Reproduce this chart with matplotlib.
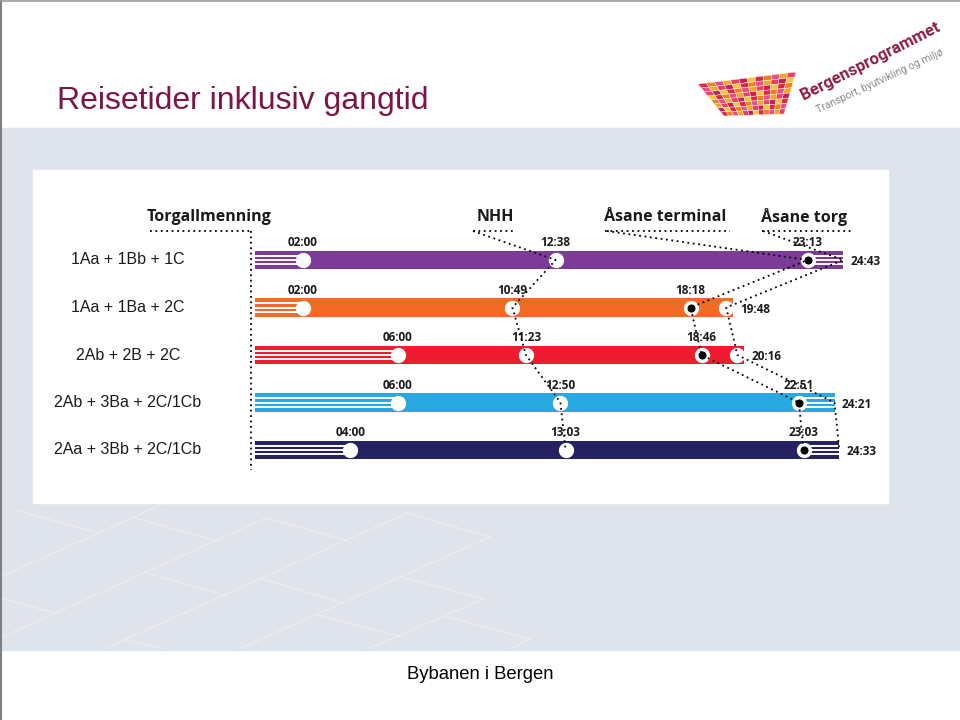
import matplotlib.pyplot as plt
from matplotlib.patches import Rectangle, Polygon

# route data (travel time in mm:ss from Torgallmenning)
routes = ["1Aa + 1Bb + 1C", "1Aa + 1Ba + 2C", "2Ab + 2B + 2C",
          "2Ab + 3Ba + 2C/1Cb", "2Aa + 3Bb + 2C/1Cb"]
board_times = ["02:00", "02:00", "06:00", "06:00", "04:00"]
nhh_times = ["12:38", "10:49", "11:23", "12:50", "13:03"]
terminal_times = ["23:13", "18:18", "18:46", "22:51", "23:03"]
torg_times = ["24:43", "19:48", "20:16", "24:21", "24:33"]
walk_to_torg = [True, False, False, True, True]
stops = ["Torgallmenning", "NHH", "Åsane terminal", "Åsane torg"]
route_colors = ["#7B3B96", "#F26A24", "#ED1C2E", "#28A9E1", "#262262"]


def to_min(s):
    m, sec = s.split(":")
    return int(m) + int(sec) / 60


board = [to_min(s) for s in board_times]
nhh = [to_min(s) for s in nhh_times]
term = [to_min(s) for s in terminal_times]
torg = [to_min(s) for s in torg_times]

# layout: chart panel in pixels, time scale
PX_MIN = 23.8
X0, ROW0, ROWH = 255, 260, 47.5


def px2data(px, py):
    return (px - X0) / PX_MIN, (py - ROW0) / ROWH


fig = plt.figure(figsize=(9.6, 7.2), dpi=100)
fig.patch.set_facecolor("white")

# ---- slide background ----
bg = fig.add_axes([0, 0, 1, 1])
bg.set_xlim(0, 960)
bg.set_ylim(720, 0)
bg.set_axis_off()
bg.add_patch(Rectangle((0, 128), 960, 522, color="#DFE3EC", zorder=0))
lattice = [
    ((15, 510), (98, 533)), ((135, 518), (217, 541)), ((266, 518), (349, 541)),
    ((407, 513), (490, 537)), ((0, 598), (55, 613)), ((147, 573), (227, 596)),
    ((263, 579), (343, 603)), ((401, 577), (484, 599)), ((318, 615), (401, 637)),
    ((447, 617), (530, 639)), ((126, 640), (165, 649)),
    ((0, 577), (165, 503)), ((0, 638), (266, 518)), ((104, 649), (407, 513)),
    ((239, 649), (490, 537)), ((367, 649), (484, 599)), ((510, 649), (530, 639)),
]
for (xa, ya), (xb, yb) in lattice:
    bg.plot([xa, xb], [ya, yb], color="white", lw=0.7, alpha=0.45, zorder=1)
bg.add_patch(Rectangle((33, 170), 855, 333, color="white", zorder=2))
bg.plot([1, 1], [0, 720], color="#7f7f7f", lw=1.5, zorder=3)
bg.plot([0, 960], [1, 1], color="#9a9a9a", lw=1.2, zorder=3)

bg.text(57, 109, "Reisetider inklusiv gangtid", fontsize=23, color="#7D1445",
        family="Liberation Sans", va="baseline", ha="left")
bg.text(480, 679, "Bybanen i Bergen", fontsize=13.3, color="black",
        family="Liberation Sans", va="baseline", ha="center")

# logo: woven tile + name
TL, TR, BR, BL = (698, 84), (796, 72), (784, 114), (724, 116)
palette = ["#E3263B", "#F5A623", "#F7C53A", "#E94E8A", "#C71F5A", "#F47B20", "#EE3F5C"]
nr, nc = 8, 12


def quad(u, v):
    tx = TL[0] + (TR[0] - TL[0]) * u
    ty = TL[1] + (TR[1] - TL[1]) * u
    bx = BL[0] + (BR[0] - BL[0]) * u
    by = BL[1] + (BR[1] - BL[1]) * u
    return tx + (bx - tx) * v, ty + (by - ty) * v


for i in range(nr):
    for j in range(nc):
        u0, u1 = j / nc, (j + 1) / nc
        v0, v1 = i / nr, (i + 1) / nr
        pts = [quad(u0, v0), quad(u1, v0), quad(u1, v1), quad(u0, v1)]
        bg.add_patch(Polygon(pts, closed=True, facecolor=palette[(3 * i + 5 * j) % len(palette)],
                             edgecolor="white", lw=0.3, zorder=3))
bg.text(804, 100, "Bergensprogrammet", rotation=27, rotation_mode="anchor",
        fontsize=12, weight="bold", color="#8C1D40",
        family="Roboto", ha="left", va="baseline", zorder=4)
bg.text(818, 113, "Transport, byutvikling og miljø", rotation=25, rotation_mode="anchor",
        fontsize=7.5, color="#8a8a8a",
        family="Roboto", ha="left", va="baseline", zorder=4)

# ---- chart ----
ax = fig.add_axes([33 / 960, 1 - 503 / 720, 855 / 960, 333 / 720])
xl0, _ = px2data(33, 0)
xl1, _ = px2data(888, 0)
_, yb = px2data(0, 503)
_, yt = px2data(0, 170)
ax.set_xlim(xl0, xl1)
ax.set_ylim(yb, yt)
ax.set_axis_off()

lab_font = dict(family="Open Sans", weight="bold", fontsize=8.5, color="#1a1a1a")
dots = dict(color="black", lw=1.3, linestyle=(0, (1, 2)), zorder=6)
BAR_H = 0.38
CAP = 0.3
stripe_offs = [-0.085, 0, 0.085]

lx, _ = px2data(128, 0)
for i, name in enumerate(routes):
    c = route_colors[i]
    end = torg[i] if walk_to_torg[i] else torg[i] + CAP
    ax.barh(i, end, left=0, height=BAR_H, color=c, zorder=2)
    for off in stripe_offs:
        ax.plot([0, board[i]], [i + off, i + off], color="white", lw=1.4,
                solid_capstyle="butt", zorder=3)
        if walk_to_torg[i]:
            ax.plot([term[i], torg[i]], [i + off, i + off], color="white", lw=1.4,
                    solid_capstyle="butt", zorder=3)
    for t in (board[i], nhh[i], term[i]):
        ax.plot(t, i, "o", ms=10, mfc="white", mec="white", zorder=4)
    ax.plot(term[i], i, "o", ms=4.8, mfc="black", mec="black", zorder=5)
    if not walk_to_torg[i]:
        ax.plot(torg[i], i, "o", ms=10, mfc="white", mec="white", zorder=4)
    for t, s in ((board[i], board_times[i]), (nhh[i], nhh_times[i]), (term[i], terminal_times[i])):
        ax.text(t, i - 0.36, s, ha="center", va="center", **lab_font)
    ax.text(end + 0.3, i + 0.04, torg_times[i], ha="left", va="center", **lab_font)
    ax.text(lx, i, name, ha="center", va="center", fontsize=11.5,
            family="Liberation Sans", color="#1a1a1a")

# stop headers with dotted underlines
head_px = [209, 495, 665, 804]
under_px = [(150, 251), (473, 514), (605, 730), (762, 853)]
_, hy = px2data(0, 217)
_, uy = px2data(0, 231)
for s, hx, (ua, ub) in zip(stops, head_px, under_px):
    ax.text(px2data(hx, 0)[0], hy, s, ha="center", va="center",
            family="Open Sans", weight="bold", fontsize=11.5, color="#1a1a1a")
    ax.plot([px2data(ua, 0)[0], px2data(ub, 0)[0]], [uy, uy], **dots)

# connectors from headers down through the stops
vx, _ = px2data(251, 0)
_, vy = px2data(0, 470)
ax.plot([vx, vx], [uy, vy], **dots)
for (ax_px, times) in ((473, nhh), (607, term), (763, torg)):
    sx, sy = px2data(ax_px, 231)
    xs = [sx] + list(times)
    ys = [sy] + list(range(len(times)))
    ax.plot(xs, ys, **dots)

fig.savefig("out.png", dpi=100)
